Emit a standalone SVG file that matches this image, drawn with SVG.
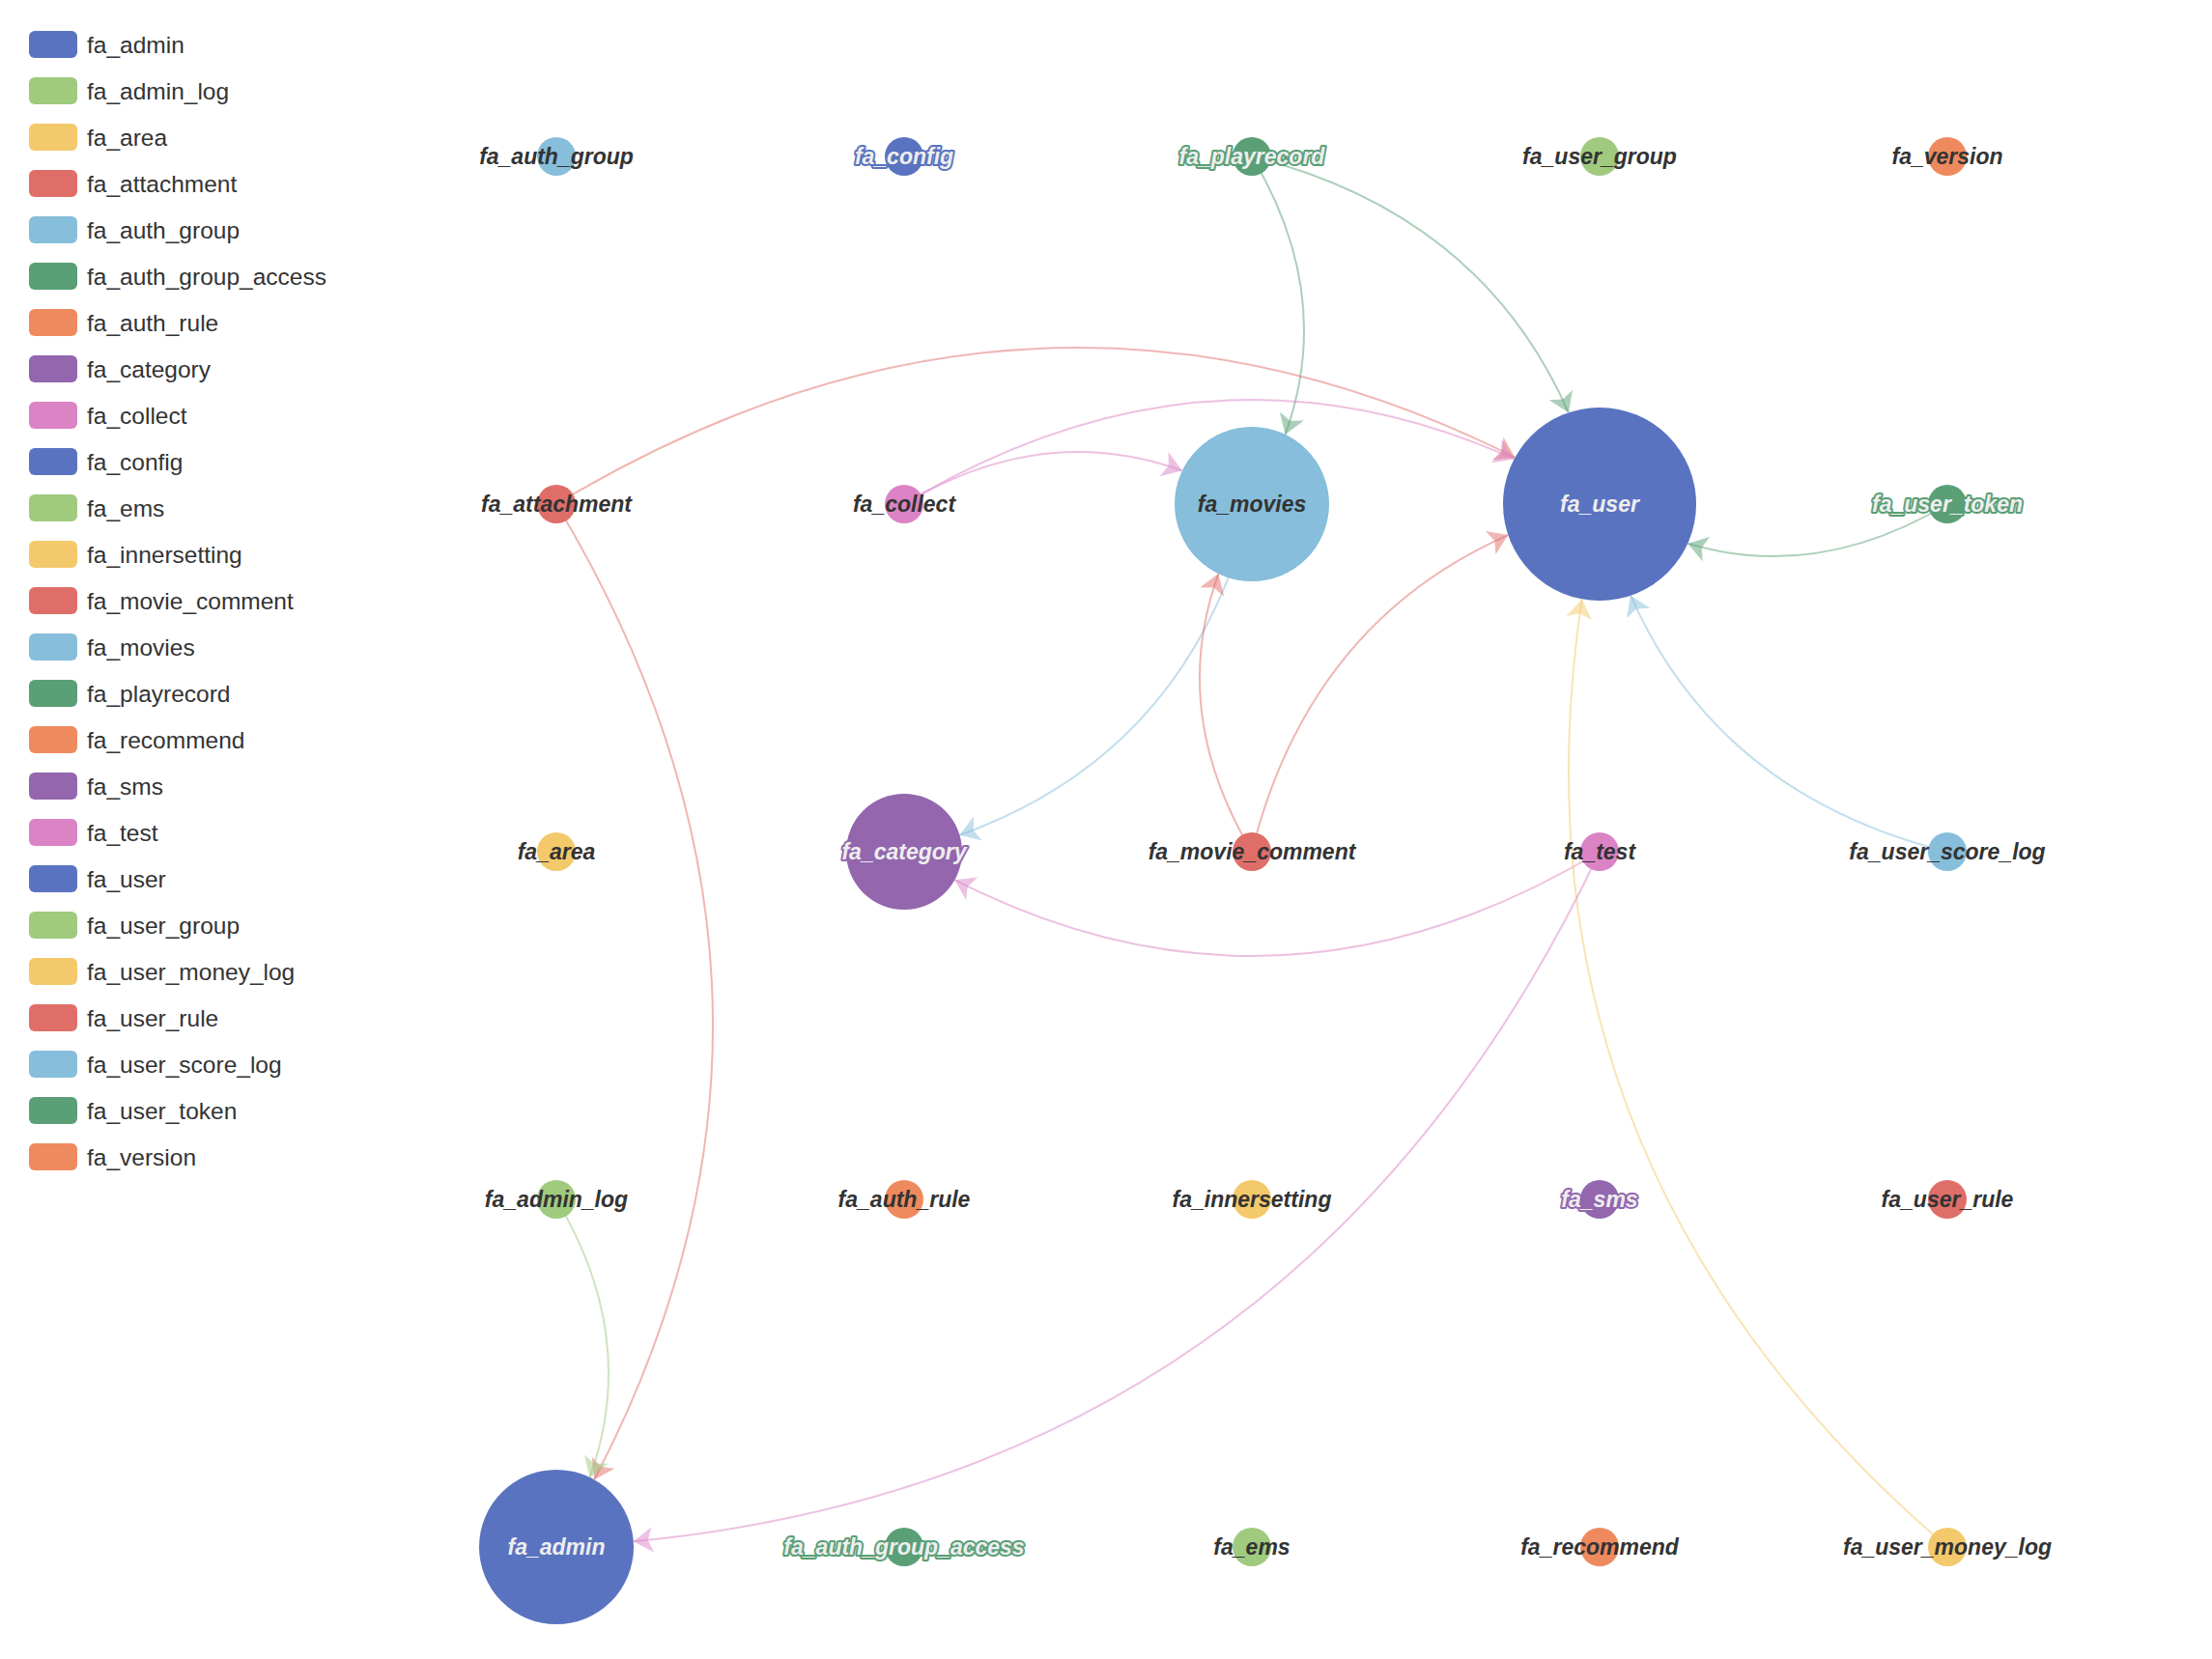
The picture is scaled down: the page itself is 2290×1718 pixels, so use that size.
<svg xmlns="http://www.w3.org/2000/svg" xmlns:xlink="http://www.w3.org/1999/xlink" width="2290" height="1718" viewBox="0 0 2290 1718">
<style>
.lg{font-family:"Liberation Sans",Arial,sans-serif;font-size:24.5px;fill:#333}
.lbl{font-family:"Liberation Sans",Arial,sans-serif;font-size:23px;font-weight:bold;font-style:italic;fill:#333;text-anchor:middle}
.inv{fill:#eee;stroke-width:4px;stroke-linejoin:round;paint-order:stroke}
.e{fill:none;stroke-width:2;stroke-opacity:.5}
.a{fill-opacity:.5}
.f0{fill:#5a73c0}.f1{fill:#a0ca7e}.f2{fill:#f3c96b}.f3{fill:#df6e69}.f4{fill:#86bedb}.f5{fill:#5a9f76}.f6{fill:#ee8a5d}.f7{fill:#9366ae}.f8{fill:#dc83c5}
.s0{stroke:#5a73c0}.s1{stroke:#a0ca7e}.s2{stroke:#f3c96b}.s3{stroke:#df6e69}.s4{stroke:#86bedb}.s5{stroke:#5a9f76}.s6{stroke:#ee8a5d}.s7{stroke:#9366ae}.s8{stroke:#dc83c5}
</style>
<defs>
<path id="arr" d="M0,0 L-20,-13.3 L-15,0 L-20,13.3 Z"/>
</defs>
<rect width="2290" height="1718" fill="#fff"/>
<g id="legend">
<rect x="30" y="32" width="50" height="28" rx="6" class="f0"/><text x="90" y="55" class="lg">fa_admin</text>
<rect x="30" y="80" width="50" height="28" rx="6" class="f1"/><text x="90" y="103" class="lg">fa_admin_log</text>
<rect x="30" y="128" width="50" height="28" rx="6" class="f2"/><text x="90" y="151" class="lg">fa_area</text>
<rect x="30" y="176" width="50" height="28" rx="6" class="f3"/><text x="90" y="199" class="lg">fa_attachment</text>
<rect x="30" y="224" width="50" height="28" rx="6" class="f4"/><text x="90" y="247" class="lg">fa_auth_group</text>
<rect x="30" y="272" width="50" height="28" rx="6" class="f5"/><text x="90" y="295" class="lg">fa_auth_group_access</text>
<rect x="30" y="320" width="50" height="28" rx="6" class="f6"/><text x="90" y="343" class="lg">fa_auth_rule</text>
<rect x="30" y="368" width="50" height="28" rx="6" class="f7"/><text x="90" y="391" class="lg">fa_category</text>
<rect x="30" y="416" width="50" height="28" rx="6" class="f8"/><text x="90" y="439" class="lg">fa_collect</text>
<rect x="30" y="464" width="50" height="28" rx="6" class="f0"/><text x="90" y="487" class="lg">fa_config</text>
<rect x="30" y="512" width="50" height="28" rx="6" class="f1"/><text x="90" y="535" class="lg">fa_ems</text>
<rect x="30" y="560" width="50" height="28" rx="6" class="f2"/><text x="90" y="583" class="lg">fa_innersetting</text>
<rect x="30" y="608" width="50" height="28" rx="6" class="f3"/><text x="90" y="631" class="lg">fa_movie_comment</text>
<rect x="30" y="656" width="50" height="28" rx="6" class="f4"/><text x="90" y="679" class="lg">fa_movies</text>
<rect x="30" y="704" width="50" height="28" rx="6" class="f5"/><text x="90" y="727" class="lg">fa_playrecord</text>
<rect x="30" y="752" width="50" height="28" rx="6" class="f6"/><text x="90" y="775" class="lg">fa_recommend</text>
<rect x="30" y="800" width="50" height="28" rx="6" class="f7"/><text x="90" y="823" class="lg">fa_sms</text>
<rect x="30" y="848" width="50" height="28" rx="6" class="f8"/><text x="90" y="871" class="lg">fa_test</text>
<rect x="30" y="896" width="50" height="28" rx="6" class="f0"/><text x="90" y="919" class="lg">fa_user</text>
<rect x="30" y="944" width="50" height="28" rx="6" class="f1"/><text x="90" y="967" class="lg">fa_user_group</text>
<rect x="30" y="992" width="50" height="28" rx="6" class="f2"/><text x="90" y="1015" class="lg">fa_user_money_log</text>
<rect x="30" y="1040" width="50" height="28" rx="6" class="f3"/><text x="90" y="1063" class="lg">fa_user_rule</text>
<rect x="30" y="1088" width="50" height="28" rx="6" class="f4"/><text x="90" y="1111" class="lg">fa_user_score_log</text>
<rect x="30" y="1136" width="50" height="28" rx="6" class="f5"/><text x="90" y="1159" class="lg">fa_user_token</text>
<rect x="30" y="1184" width="50" height="28" rx="6" class="f6"/><text x="90" y="1207" class="lg">fa_version</text>
</g>
<g id="connectors">
<path class="e s5" d="M1296,162 Q1382.4,305.9 1330.6,449.9"/>
<use xlink:href="#arr" class="a f5" transform="translate(1330.6,449.9) rotate(109.8)"/>
<path class="e s5" d="M1296,162 Q1533.3,221.3 1623.9,427.3"/>
<use xlink:href="#arr" class="a f5" transform="translate(1623.9,427.3) rotate(66.25)"/>
<path class="e s3" d="M576,522 Q1072.2,224.3 1568.4,473.7"/>
<use xlink:href="#arr" class="a f3" transform="translate(1568.4,473.7) rotate(26.68)"/>
<path class="e s8" d="M936,522 Q1251.8,332.5 1567.5,475.4"/>
<use xlink:href="#arr" class="a f8" transform="translate(1567.5,475.4) rotate(24.34)"/>
<path class="e s8" d="M936,522 Q1079.9,435.6 1223.9,487.4"/>
<use xlink:href="#arr" class="a f8" transform="translate(1223.9,487.4) rotate(19.77)"/>
<path class="e s5" d="M2016,522 Q1881.6,602.6 1747.3,562.9"/>
<use xlink:href="#arr" class="a f5" transform="translate(1747.3,562.9) rotate(-163.53)"/>
<path class="e s4" d="M1296,522 Q1231.5,780.1 993.5,864.7"/>
<use xlink:href="#arr" class="a f4" transform="translate(993.5,864.7) rotate(160.42)"/>
<path class="e s3" d="M1296,882 Q1209.6,738.1 1261.4,594.1"/>
<use xlink:href="#arr" class="a f3" transform="translate(1261.4,594.1) rotate(-70.23)"/>
<path class="e s3" d="M1296,882 Q1355.3,644.7 1561.3,554.1"/>
<use xlink:href="#arr" class="a f3" transform="translate(1561.3,554.1) rotate(-23.75)"/>
<path class="e s8" d="M1656,882 Q1322.2,1082.3 988.4,911.2"/>
<use xlink:href="#arr" class="a f8" transform="translate(988.4,911.2) rotate(-152.87)"/>
<path class="e s4" d="M2016,882 Q1778.7,822.7 1688.1,616.7"/>
<use xlink:href="#arr" class="a f4" transform="translate(1688.1,616.7) rotate(-113.75)"/>
<path class="e s2" d="M2016,1602 Q1550.7,1203.2 1637.7,620.3"/>
<use xlink:href="#arr" class="a f2" transform="translate(1637.7,620.3) rotate(-81.51)"/>
<path class="e s8" d="M1656,882 Q1349.4,1529.3 655.8,1596.3"/>
<use xlink:href="#arr" class="a f8" transform="translate(655.8,1596.3) rotate(174.49)"/>
<path class="e s3" d="M576,522 Q879.1,1027.1 615.2,1532.3"/>
<use xlink:href="#arr" class="a f3" transform="translate(615.2,1532.3) rotate(117.59)"/>
<path class="e s1" d="M576,1242 Q662.4,1385.9 610.6,1529.9"/>
<use xlink:href="#arr" class="a f1" transform="translate(610.6,1529.9) rotate(109.8)"/>
</g>
<g id="fa_auth_group"><circle cx="576" cy="162" r="20" class="f4"/><text x="576" y="170" class="lbl">fa_auth_group</text></g>
<g id="fa_config"><circle cx="936" cy="162" r="20" class="f0"/><text x="936" y="170" class="lbl inv s0">fa_config</text></g>
<g id="fa_playrecord"><circle cx="1296" cy="162" r="20" class="f5"/><text x="1296" y="170" class="lbl inv s5">fa_playrecord</text></g>
<g id="fa_user_group"><circle cx="1656" cy="162" r="20" class="f1"/><text x="1656" y="170" class="lbl">fa_user_group</text></g>
<g id="fa_version"><circle cx="2016" cy="162" r="20" class="f6"/><text x="2016" y="170" class="lbl">fa_version</text></g>
<g id="fa_attachment"><circle cx="576" cy="522" r="20" class="f3"/><text x="576" y="530" class="lbl">fa_attachment</text></g>
<g id="fa_collect"><circle cx="936" cy="522" r="20" class="f8"/><text x="936" y="530" class="lbl">fa_collect</text></g>
<g id="fa_movies"><circle cx="1296" cy="522" r="80" class="f4"/><text x="1296" y="530" class="lbl">fa_movies</text></g>
<g id="fa_user"><circle cx="1656" cy="522" r="100" class="f0"/><text x="1656" y="530" class="lbl inv s0">fa_user</text></g>
<g id="fa_user_token"><circle cx="2016" cy="522" r="20" class="f5"/><text x="2016" y="530" class="lbl inv s5">fa_user_token</text></g>
<g id="fa_area"><circle cx="576" cy="882" r="20" class="f2"/><text x="576" y="890" class="lbl">fa_area</text></g>
<g id="fa_category"><circle cx="936" cy="882" r="60" class="f7"/><text x="936" y="890" class="lbl inv s7">fa_category</text></g>
<g id="fa_movie_comment"><circle cx="1296" cy="882" r="20" class="f3"/><text x="1296" y="890" class="lbl">fa_movie_comment</text></g>
<g id="fa_test"><circle cx="1656" cy="882" r="20" class="f8"/><text x="1656" y="890" class="lbl">fa_test</text></g>
<g id="fa_user_score_log"><circle cx="2016" cy="882" r="20" class="f4"/><text x="2016" y="890" class="lbl">fa_user_score_log</text></g>
<g id="fa_admin_log"><circle cx="576" cy="1242" r="20" class="f1"/><text x="576" y="1250" class="lbl">fa_admin_log</text></g>
<g id="fa_auth_rule"><circle cx="936" cy="1242" r="20" class="f6"/><text x="936" y="1250" class="lbl">fa_auth_rule</text></g>
<g id="fa_innersetting"><circle cx="1296" cy="1242" r="20" class="f2"/><text x="1296" y="1250" class="lbl">fa_innersetting</text></g>
<g id="fa_sms"><circle cx="1656" cy="1242" r="20" class="f7"/><text x="1656" y="1250" class="lbl inv s7">fa_sms</text></g>
<g id="fa_user_rule"><circle cx="2016" cy="1242" r="20" class="f3"/><text x="2016" y="1250" class="lbl">fa_user_rule</text></g>
<g id="fa_admin"><circle cx="576" cy="1602" r="80" class="f0"/><text x="576" y="1610" class="lbl inv s0">fa_admin</text></g>
<g id="fa_auth_group_access"><circle cx="936" cy="1602" r="20" class="f5"/><text x="936" y="1610" class="lbl inv s5">fa_auth_group_access</text></g>
<g id="fa_ems"><circle cx="1296" cy="1602" r="20" class="f1"/><text x="1296" y="1610" class="lbl">fa_ems</text></g>
<g id="fa_recommend"><circle cx="1656" cy="1602" r="20" class="f6"/><text x="1656" y="1610" class="lbl">fa_recommend</text></g>
<g id="fa_user_money_log"><circle cx="2016" cy="1602" r="20" class="f2"/><text x="2016" y="1610" class="lbl">fa_user_money_log</text></g>
</svg>
